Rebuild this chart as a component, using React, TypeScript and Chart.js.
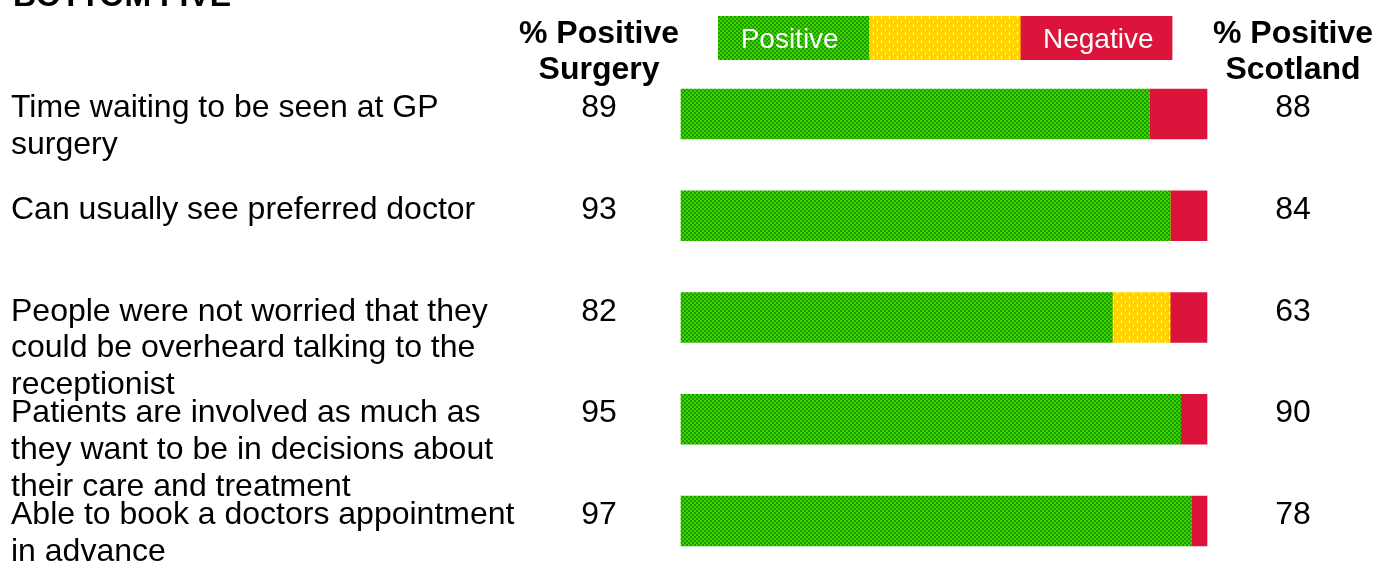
import React, { useEffect, useRef } from "react";
import { Chart, registerables } from "chart.js";

Chart.register(...registerables);

const title = "BOTTOM FIVE";
const categories: string[][] = [
  ["Time waiting to be seen at GP", "surgery"],
  ["Can usually see preferred doctor"],
  ["People were not worried that they", "could be overheard talking to the", "receptionist"],
  ["Patients are involved as much as", "they want to be in decisions about", "their care and treatment"],
  ["Able to book a doctors appointment", "in advance"],
];
const positive = [89, 93, 82, 95, 97];
const neutral = [0, 0, 11, 0, 0];
const negative = [11, 7, 7, 5, 3];
const scotland = [88, 84, 63, 90, 78];
const surgeryHeader = ["% Positive", "Surgery"];
const scotlandHeader = ["% Positive", "Scotland"];
const legendLabels = ["Positive", "", "Negative"];

const FONT = '"Liberation Sans", Arial, Helvetica, sans-serif';
const RED = "#dc143c";

function makeGreen(ctx: CanvasRenderingContext2D): CanvasPattern | string {
  const c = document.createElement("canvas");
  c.width = 4;
  c.height = 4;
  const g = c.getContext("2d");
  if (!g) return "#33bb00";
  g.fillStyle = "#3bd600";
  g.fillRect(0, 0, 4, 4);
  g.fillStyle = "#209800";
  g.fillRect(2, 0, 2, 2);
  g.fillRect(0, 2, 2, 2);
  return ctx.createPattern(c, "repeat") || "#33bb00";
}

function makeYellow(ctx: CanvasRenderingContext2D): CanvasPattern | string {
  const c = document.createElement("canvas");
  c.width = 8;
  c.height = 8;
  const g = c.getContext("2d");
  if (!g) return "#ffd400";
  g.fillStyle = "#ffd200";
  g.fillRect(0, 0, 8, 8);
  g.fillStyle = "rgba(255,255,255,0.85)";
  g.fillRect(1, 0, 1, 3);
  g.fillStyle = "rgba(255,245,200,0.7)";
  g.fillRect(5, 4, 1, 3);
  return ctx.createPattern(c, "repeat") || "#ffd400";
}

export default function App() {
  const ref = useRef<HTMLCanvasElement | null>(null);

  useEffect(() => {
    const canvas = ref.current;
    if (!canvas) return;
    const ctx0 = canvas.getContext("2d");
    if (!ctx0) return;
    const green = makeGreen(ctx0);
    const yellow = makeYellow(ctx0);

    const textPlugin = {
      id: "texts",
      afterDraw(chart: any) {
        const ctx: CanvasRenderingContext2D = chart.ctx;
        const y = chart.scales.y;
        ctx.save();
        ctx.fillStyle = "#000";
        // title (cut off at top)
        ctx.font = `bold 32px ${FONT}`;
        ctx.textAlign = "left";
        ctx.textBaseline = "alphabetic";
        ctx.fillText(title, 13, 6);

        // headers
        ctx.textAlign = "center";
        surgeryHeader.forEach((t, k) => ctx.fillText(t, 599, 43 + k * 36));
        scotlandHeader.forEach((t, k) => ctx.fillText(t, 1293, 43 + k * 36));

        // rows
        ctx.font = `32px ${FONT}`;
        categories.forEach((lines, i) => {
          const base = y.getPixelForValue(i) + 3;
          ctx.textAlign = "left";
          lines.forEach((ln, k) => ctx.fillText(ln, 11, base + k * 36.8));
          ctx.textAlign = "center";
          ctx.fillText(String(positive[i]), 599, base);
          ctx.fillText(String(scotland[i]), 1293, base);
        });

        // legend
        const fills = [green, yellow, RED];
        const lx = 718;
        const lw = 151.3;
        fills.forEach((f, k) => {
          ctx.fillStyle = f as any;
          ctx.fillRect(lx + k * lw, 16, lw + 0.5, 44);
        });
        ctx.fillStyle = "#ffffff";
        ctx.font = `28px ${FONT}`;
        ctx.textAlign = "center";
        legendLabels.forEach((t, k) => {
          if (t) ctx.fillText(t, lx + k * lw + lw / 2 + (k === 0 ? -4 : 2), 48);
        });
        ctx.restore();
      },
    };

    const chart = new Chart(canvas, {
      type: "bar",
      data: {
        labels: categories.map((c) => c.join(" ")),
        datasets: [
          { label: "Positive", data: positive, backgroundColor: green as any, borderWidth: 0, barThickness: 50, clip: false as any },
          { label: "Neutral", data: neutral, backgroundColor: yellow as any, borderWidth: 0, barThickness: 50, clip: false as any },
          { label: "Negative", data: negative, backgroundColor: RED, borderWidth: 0, barThickness: 50, clip: false as any },
        ],
      },
      options: {
        indexAxis: "y",
        animation: false,
        responsive: false,
        layout: { padding: { left: 681, right: 169, top: 114, bottom: 40 } },
        plugins: { legend: { display: false }, title: { display: false }, tooltip: { enabled: false } },
        scales: {
          x: { stacked: true, min: 0, max: 100, display: false },
          y: { stacked: true, display: false, offset: false },
        },
      },
      plugins: [textPlugin],
    });
    return () => chart.destroy();
  }, []);

  return (
    <div style={{ position: "absolute", left: 0, top: 0, width: 1376, height: 561, background: "#fff" }}>
      <canvas ref={ref} width={1376} height={561} style={{ width: 1376, height: 561, display: "block" }} />
    </div>
  );
}
